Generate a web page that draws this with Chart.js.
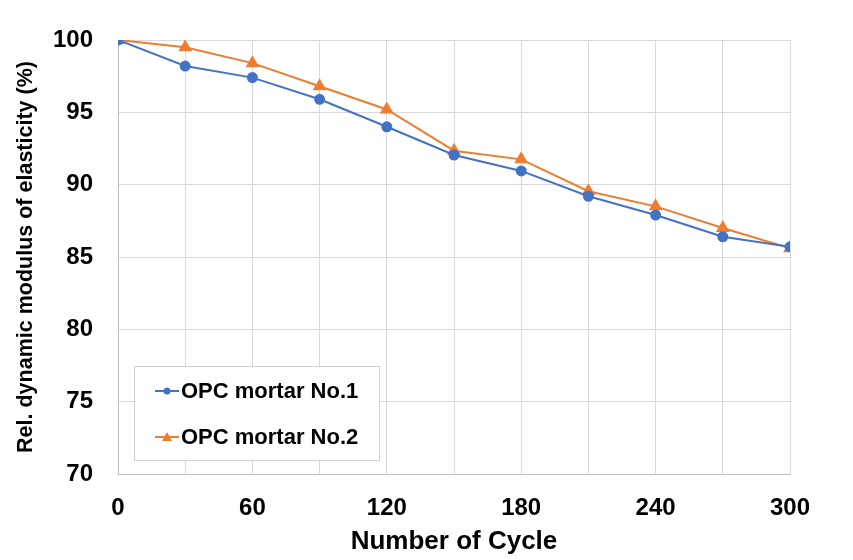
<!DOCTYPE html>
<html>
<head>
<meta charset="utf-8">
<script src="https://cdn.jsdelivr.net/npm/chart.js@4.4.1/dist/chart.umd.min.js"></script>
<style>
  html, body { margin: 0; padding: 0; background: #fff; }
  #wrap { width: 853px; height: 560px; }
</style>
</head>
<body>
<div id="wrap"><canvas id="chart" width="853" height="560"></canvas></div>
<script>
const cycles = [0, 30, 60, 90, 120, 150, 180, 210, 240, 270, 300];
const mortar1 = [100, 98.2, 97.4, 95.9, 94.0, 92.05, 90.95, 89.2, 87.9, 86.4, 85.7];
const mortar2 = [100, 99.5, 98.4, 96.8, 95.2, 92.35, 91.75, 89.55, 88.5, 87.0, 85.6];
const seriesNames = ['OPC mortar No.1', 'OPC mortar No.2'];
const xTicks = [0, 60, 120, 180, 240, 300];

const FONT = 'Liberation Sans, Arial, sans-serif';
const ctx = document.getElementById('chart').getContext('2d');

// legend drawn inside the plot, with a box round it like the original
const boxLegend = {
  id: 'boxLegend',
  afterDraw(chart) {
    const c = chart.ctx;
    const area = chart.chartArea;
    const x0 = area.left + 16, y0 = area.top + 326, w = 245, h = 94;
    c.save();
    c.fillStyle = '#fff';
    c.fillRect(x0, y0, w, h);
    c.strokeStyle = '#d0d0d0';
    c.lineWidth = 1;
    c.strokeRect(x0 + 0.5, y0 + 0.5, w, h);
    chart.data.datasets.forEach((ds, i) => {
      const y = y0 + 25 + i * 46;
      c.strokeStyle = ds.borderColor;
      c.lineWidth = 2;
      c.beginPath();
      c.moveTo(x0 + 21, y);
      c.lineTo(x0 + 45, y);
      c.stroke();
      c.fillStyle = ds.backgroundColor;
      c.beginPath();
      if (ds.pointStyle === 'triangle') {
        c.moveTo(x0 + 33, y - 5);
        c.lineTo(x0 + 38, y + 4);
        c.lineTo(x0 + 28, y + 4);
        c.closePath();
      } else {
        c.arc(x0 + 33, y, 3.5, 0, Math.PI * 2);
      }
      c.fill();
      c.fillStyle = '#000';
      c.font = 'bold 22px ' + FONT;
      c.textBaseline = 'middle';
      c.fillText(ds.label, x0 + 47, y + 1);
    });
    c.restore();
  }
};

new Chart(ctx, {
  type: 'line',
  data: {
    datasets: [
      {
        label: seriesNames[0],
        data: cycles.map((c, i) => ({ x: c, y: mortar1[i] })),
        borderColor: '#4472C4',
        backgroundColor: '#4472C4',
        borderWidth: 2,
        pointStyle: 'circle',
        pointRadius: 4.5,
        pointHoverRadius: 4.5
      },
      {
        label: seriesNames[1],
        data: cycles.map((c, i) => ({ x: c, y: mortar2[i] })),
        borderColor: '#ED7D31',
        backgroundColor: '#ED7D31',
        borderWidth: 2,
        pointStyle: 'triangle',
        pointRadius: 6,
        pointHoverRadius: 6
      }
    ]
  },
  options: {
    responsive: false,
    animation: false,
    layout: { padding: { left: 8, right: 63, top: 40, bottom: 3 } },
    plugins: {
      legend: { display: false },
      tooltip: { enabled: false }
    },
    scales: {
      x: {
        type: 'linear',
        min: 0,
        max: 300,
        afterBuildTicks: (scale) => {
          scale.ticks = cycles.map(v => ({ value: v }));
        },
        ticks: {
          color: '#000',
          font: { family: FONT, size: 24, weight: 'bold' },
          padding: 20,
          maxRotation: 0,
          callback: (v) => xTicks.includes(v) ? String(v) : ''
        },
        grid: { color: '#d9d9d9', drawTicks: false },
        border: { color: '#bfbfbf', width: 1 },
        title: {
          display: true,
          text: 'Number of Cycle',
          color: '#000',
          font: { family: FONT, size: 26, weight: 'bold' },
          padding: { top: 0, bottom: 0 }
        },
        afterFit: (scale) => { scale.height = 83; }
      },
      y: {
        min: 70,
        max: 100,
        ticks: {
          stepSize: 5,
          color: '#000',
          font: { family: FONT, size: 24, weight: 'bold' },
          padding: 25
        },
        grid: { color: '#d9d9d9', drawTicks: false },
        border: { color: '#bfbfbf', width: 1 },
        title: {
          display: true,
          text: 'Rel. dynamic modulus of elasticity (%)',
          color: '#000',
          font: { family: FONT, size: 21.5, weight: 'bold' },
          padding: { top: 5, bottom: 0 }
        },
        afterFit: (scale) => { scale.width = 110; }
      }
    }
  },
  plugins: [boxLegend]
});
</script>
</body>
</html>
